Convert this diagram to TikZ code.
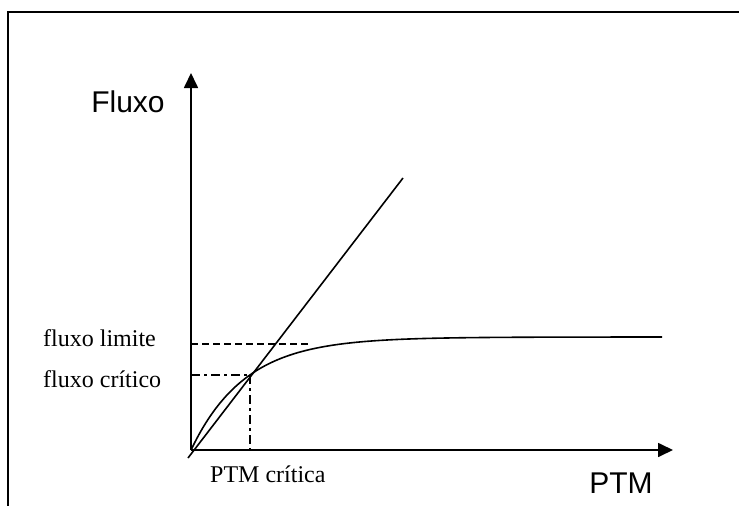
\documentclass[tikz,border=0pt]{standalone}
\usepackage{fontspec}
\setmainfont{Liberation Serif}
\setsansfont{Liberation Sans}
\usetikzlibrary{arrows.meta}

\begin{document}
\begin{tikzpicture}[
  x=1pt,y=-1pt,
  axis/.style={line width=1.7pt,-{Triangle[length=15pt,width=14pt]}},
  curve/.style={line width=1.6pt},
  guide/.style={line width=1.8pt},
  axlabel/.style={font=\sffamily\fontsize{30}{32}\selectfont,inner sep=0pt},
  vallabel/.style={font=\fontsize{24}{26}\selectfont,inner sep=0pt},
]
\useasboundingbox (0,0) rectangle (739,506);
% frame (only top and left edges show)
\coordinate (fbl) at (8,506);
\coordinate (ftl) at (8,12);
\coordinate (ftr) at (739,12);
\draw[line width=2.4pt] (fbl) -- (ftl) -- (ftr);

% axes
\coordinate (O) at (191,450);
\coordinate (ytip) at (191,73);
\coordinate (xtip) at (673,450);
\draw[axis] (O) -- (ytip);
\draw[axis] (O) -- (xtip);

% critical and limit points
\coordinate (crit) at (250,375);
\coordinate (critx) at (250,450);
\coordinate (crity) at (191,375);
\coordinate (limy) at (191,344);
\coordinate (limend) at (310,344);

% straight line and flux curve
\coordinate (lstart) at (188,458);
\coordinate (lend) at (403,178);
\draw[curve] (lstart) -- (lend);
\draw[curve] plot[domain=191:662,samples=80,smooth]
  (\x,{450-113*(1-exp(-(\x-191)/54))});

% guide lines
\draw[guide,dash pattern=on 7pt off 4pt] (limy) -- (limend);
\draw[guide,dash pattern=on 9pt off 4pt on 3pt off 4pt] (crity) -- (crit);
\draw[guide,dash pattern=on 9pt off 4pt on 3pt off 4pt] (crit) -- (critx);

% labels
\node[axlabel,anchor=base] (fluxo) at (128,112) {Fluxo};
\node[axlabel,anchor=base] (ptm) at (621,493) {PTM};
\node[vallabel,anchor=base west] (flim) at (43,346) {fluxo limite};
\node[vallabel,anchor=base west] (fcrit) at (43,387) {fluxo crítico};
\node[vallabel,anchor=base west] (ptmcrit) at (210,482) {PTM crítica};
\end{tikzpicture}
\end{document}
